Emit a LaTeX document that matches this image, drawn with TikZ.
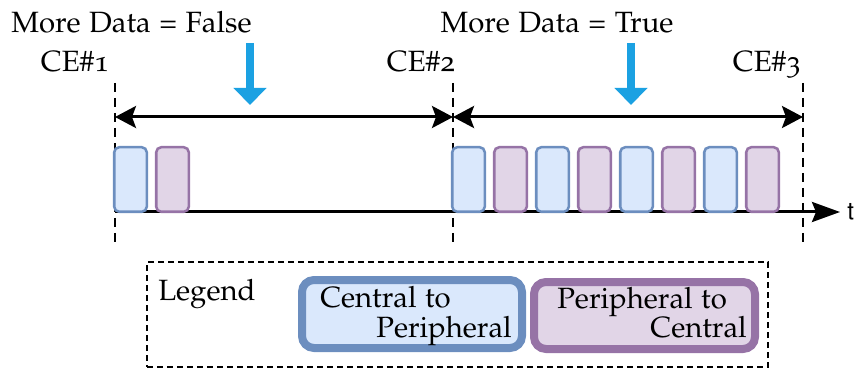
\documentclass[tikz,border=0pt]{standalone}
\usepackage[T1]{fontenc}
\usepackage[osf]{mathpazo}
\usetikzlibrary{arrows.meta}

\definecolor{flagblue}{HTML}{1BA1E2}
\definecolor{cpfill}{HTML}{DAE8FC}
\definecolor{cpdraw}{HTML}{6C8EBF}
\definecolor{pcfill}{HTML}{E1D5E7}
\definecolor{pcdraw}{HTML}{9673A6}

\tikzset{
  lbl/.style={font=\fontsize{22}{26}\selectfont, inner sep=0pt},
  cemark/.style={line width=2.2pt, dash pattern=on 6.75pt off 4.5pt},
  interval/.style={line width=2.25pt, {Stealth[length=15.75pt,width=16.5pt,inset=3pt]}-{Stealth[length=15.75pt,width=16.5pt,inset=3pt]}},
  timeaxis/.style={line width=2.25pt, -{Stealth[length=21pt,width=15pt,inset=3pt]}},
  flag/.style={flagblue, line width=6.5pt, -{Triangle[length=12.75pt,width=24pt]}},
  pkt/.style={rectangle, rounded corners=3.75pt, line width=1.9pt, inner sep=0pt,
              minimum width=24.4pt, minimum height=48.4pt},
  cp/.style={pkt, draw=cpdraw, fill=cpfill},
  pc/.style={pkt, draw=pcdraw, fill=pcfill},
  legendframe/.style={rectangle, draw, line width=2pt, dash pattern=on 4.5pt off 3pt,
              minimum width=465.75pt, minimum height=78.75pt, inner sep=0pt},
  legendkey/.style={rectangle, rounded corners=9pt, line width=6pt, inner sep=0pt}
}

\begin{document}
\begin{tikzpicture}[x=0.75pt, y=-0.75pt]
  \useasboundingbox (0,0) rectangle (856,370);

  % connection event boundaries
  \coordinate (ce1top) at (115,83);  \coordinate (ce1bot) at (115,246);
  \coordinate (ce2top) at (453,83);  \coordinate (ce2bot) at (453,246);
  \coordinate (ce3top) at (803,83);  \coordinate (ce3bot) at (803,246);
  \draw[cemark] (ce1top) -- (ce1bot);
  \draw[cemark] (ce2top) -- (ce2bot);
  \draw[cemark] (ce3top) -- (ce3bot);

  \node[lbl, anchor=base] (ce1) at (75,72) {CE\#1};
  \node[lbl, anchor=base] (ce2) at (421,72) {CE\#2};
  \node[lbl, anchor=base] (ce3) at (767,72) {CE\#3};

  % connection event intervals
  \coordinate (i1) at (115,117);
  \coordinate (i2) at (453,117);
  \coordinate (i3) at (803,117);
  \draw[interval] (i1) -- (i2);
  \draw[interval] (i2) -- (i3);

  % More Data flags
  \node[lbl, anchor=base] (mdf) at (131.5,33) {More Data = False};
  \node[lbl, anchor=base] (mdt) at (557,33) {More Data = True};
  \coordinate (f1a) at (250,43); \coordinate (f1b) at (250,105);
  \coordinate (f2a) at (631,43); \coordinate (f2b) at (631,105);
  \draw[flag] (f1a) -- (f1b);
  \draw[flag] (f2a) -- (f2b);

  % time axis
  \coordinate (t0) at (115,212);
  \coordinate (t1) at (840,212);
  \draw[timeaxis] (t0) -- (t1);
  \node[anchor=base west, inner sep=0pt, font=\fontfamily{phv}\fontsize{18}{21}\selectfont] (tlabel) at (847,220) {t};

  % packets of the first connection event
  \node[cp] (a1) at (130.5,179.5) {};
  \node[pc] (a2) at (172.5,179.5) {};

  % packets of the second connection event
  \node[cp] (b1) at (468.5,179.5) {};
  \node[pc] (b2) at (510.5,179.5) {};
  \node[cp] (b3) at (552.5,179.5) {};
  \node[pc] (b4) at (594.5,179.5) {};
  \node[cp] (b5) at (636.5,179.5) {};
  \node[pc] (b6) at (678.5,179.5) {};
  \node[cp] (b7) at (720.5,179.5) {};
  \node[pc] (b8) at (762.5,179.5) {};

  % legend
  \node[legendframe] (legend) at (457.5,314.5) {};
  \node[lbl, anchor=base west] (legendtitle) at (158,300) {Legend};

  \draw[legendkey, draw=cpdraw, fill=cpfill] (302,280) rectangle (522,348);
  \node[lbl, anchor=base west] (cpl1) at (320,307) {Central to};
  \node[lbl, anchor=base east] (cpl2) at (512,337) {Peripheral};

  \draw[legendkey, draw=pcdraw, fill=pcfill] (534,282) rectangle (755,349);
  \node[lbl, anchor=base west] (pcl1) at (557,308) {Peripheral to};
  \node[lbl, anchor=base east] (pcl2) at (747,337) {Central};
\end{tikzpicture}
\end{document}
